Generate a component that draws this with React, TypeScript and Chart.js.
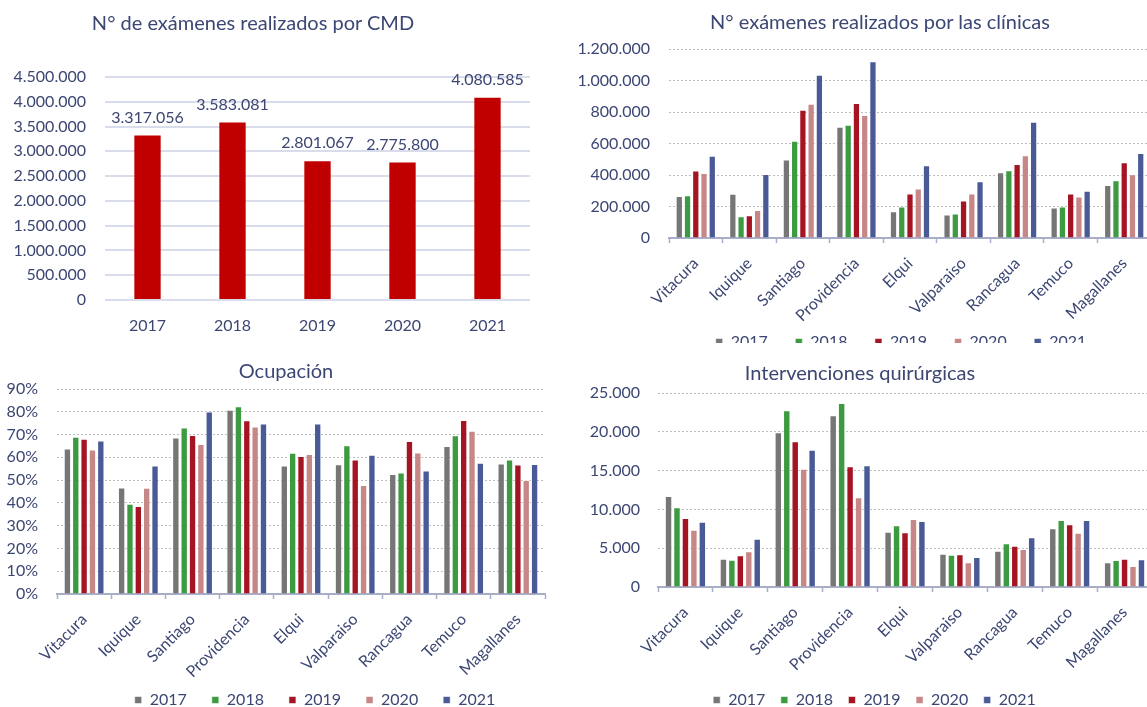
import React, { useEffect, useRef } from 'react';
import { Chart, registerables } from 'chart.js';

Chart.register(...registerables);

// ---------- DATA ----------
const years = ['2017', '2018', '2019', '2020', '2021'];
const cmdValues = [3317056, 3583081, 2801067, 2775800, 4080585];

const clinics = ['Vitacura', 'Iquique', 'Santiago', 'Providencia', 'Elqui', 'Valparaiso', 'Rancagua', 'Temuco', 'Magallanes'];

const exams2017 = [266000, 281000, 498000, 706000, 170000, 149000, 417000, 194000, 336000];
const exams2018 = [272000, 138000, 617000, 719000, 200000, 155000, 430000, 200000, 366000];
const exams2019 = [428000, 145000, 815000, 857000, 283000, 238000, 470000, 283000, 481000];
const exams2020 = [413000, 177000, 853000, 781000, 315000, 283000, 526000, 264000, 404000];
const exams2021 = [523000, 406000, 1036000, 1123000, 462000, 360000, 738000, 300000, 540000];

const occ2017 = [63.9, 46.8, 68.7, 80.9, 56.4, 57.0, 52.7, 65.0, 57.3];
const occ2018 = [69.0, 39.6, 73.1, 82.4, 62.0, 65.3, 53.3, 69.7, 59.0];
const occ2019 = [68.2, 38.6, 69.8, 76.3, 60.6, 59.0, 67.2, 76.4, 56.8];
const occ2020 = [63.4, 46.6, 65.8, 73.5, 61.5, 47.8, 62.1, 71.7, 50.0];
const occ2021 = [67.4, 56.4, 80.1, 74.8, 74.8, 61.1, 54.2, 57.6, 57.1];

const surg2017 = [11730, 3650, 19930, 22120, 7130, 4300, 4680, 7560, 3180];
const surg2018 = [10270, 3520, 22770, 23710, 7950, 4170, 5630, 8630, 3480];
const surg2019 = [8890, 4080, 18770, 15550, 7050, 4210, 5330, 8080, 3650];
const surg2020 = [7390, 4600, 15250, 11560, 8760, 3180, 4900, 7000, 2710];
const surg2021 = [8420, 6230, 17700, 15680, 8510, 3870, 6400, 8630, 3570];

// ---------- STYLE ----------
const TEXT = '#3C4673';
const FONT = 'Lato';
const seriesColors = ['#767676', '#3C9B41', '#A51423', '#C88787', '#4A5A96'];

const fmtThousands = (n: number) =>
  Math.round(n).toString().replace(/\B(?=(\d{3})+(?!\d))/g, '.');

const dataLabelPlugin = {
  id: 'dataLabels',
  afterDatasetsDraw(chart: any) {
    const ctx = chart.ctx;
    const meta = chart.getDatasetMeta(0);
    const ds = chart.data.datasets[0];
    ctx.save();
    ctx.fillStyle = TEXT;
    ctx.font = `16px ${FONT}`;
    ctx.textAlign = 'center';
    ctx.textBaseline = 'middle';
    meta.data.forEach((bar: any, i: number) => {
      ctx.fillText(fmtThousands(ds.data[i]), bar.x, bar.y - 18);
    });
    ctx.restore();
  },
};

function cmdConfig(): any {
  return {
    type: 'bar',
    data: {
      labels: years,
      datasets: [
        {
          data: cmdValues,
          backgroundColor: '#C00000',
          categoryPercentage: 1,
          barPercentage: 0.31,
        },
      ],
    },
    options: {
      responsive: false,
      animation: false,
      layout: { padding: { top: 77, left: 0, right: 30, bottom: 0 } },
      plugins: { legend: { display: false }, tooltip: { enabled: false } },
      scales: {
        x: {
          grid: { display: false, drawTicks: false },
          border: { display: false },
          ticks: { color: TEXT, font: { family: FONT, size: 16 }, padding: 16, maxRotation: 0, minRotation: 0 },
          afterFit: (s: any) => { s.height = 45; },
        },
        y: {
          min: 0,
          max: 4500000,
          ticks: {
            stepSize: 500000,
            color: TEXT,
            font: { family: FONT, size: 16 },
            padding: 19,
            callback: (v: any) => fmtThousands(Number(v)),
          },
          grid: { color: '#D9DCEA', lineWidth: 2, drawTicks: false },
          border: { display: false },
          afterFit: (s: any) => { s.width = 105; },
        },
      },
    },
    plugins: [dataLabelPlugin],
  };
}

function groupedConfig(p: {
  series: number[][];
  max: number;
  step: number;
  tick: (v: number) => string;
  padTop: number;
  yw: number;
  yPad: number;
  rw: number;
  hx: number;
  legendPad: number;
}): any {
  return {
    type: 'bar',
    data: {
      labels: clinics,
      datasets: p.series.map((d, i) => ({
        label: years[i],
        data: d,
        backgroundColor: seriesColors[i],
        borderColor: 'rgba(255,255,255,0.55)',
        borderWidth: 1,
        categoryPercentage: 0.77,
        barPercentage: 0.88,
      })),
    },
    options: {
      responsive: false,
      animation: false,
      layout: { padding: { top: p.padTop, left: 0, right: 0, bottom: 0 } },
      plugins: {
        tooltip: { enabled: false },
        legend: {
          position: 'bottom',
          labels: {
            boxWidth: 7,
            boxHeight: 7,
            padding: p.legendPad,
            color: TEXT,
            font: { family: FONT, size: 16 },
          },
        },
      },
      scales: {
        x: {
          offset: true,
          grid: {
            display: true,
            drawOnChartArea: false,
            drawTicks: true,
            tickLength: 5,
            tickColor: '#A8ADC8',
            tickWidth: 1.5,
            offset: true,
          },
          border: { display: true, color: '#A8ADC8', width: 2 },
          ticks: {
            autoSkip: false,
            maxRotation: 45,
            minRotation: 45,
            padding: 11,
            color: TEXT,
            font: { family: FONT, size: 16 },
          },
          afterFit: (s: any) => {
            s.height = p.hx;
            // let rotated labels extend past the fixed-height axis box
            s._computeLabelArea = () => undefined;
          },
        },
        y: {
          min: 0,
          max: p.max,
          ticks: {
            stepSize: p.step,
            color: TEXT,
            font: { family: FONT, size: 16 },
            padding: p.yPad,
            callback: (v: any) => p.tick(Number(v)),
          },
          grid: { color: '#BDBDBD', lineWidth: 1, drawTicks: false },
          border: { display: false, dash: [2, 2] },
          afterFit: (s: any) => { s.width = p.yw; },
        },
        yR: {
          type: 'linear',
          position: 'right',
          display: true,
          grid: { display: false, drawTicks: false },
          border: { display: false },
          ticks: { display: false },
          afterFit: (s: any) => { s.width = p.rw; },
        },
      },
    },
  };
}

function ChartBox(props: {
  left: number;
  top: number;
  clipW: number;
  clipH: number;
  width: number;
  height: number;
  makeConfig: () => any;
}) {
  const ref = useRef<HTMLCanvasElement>(null);
  useEffect(() => {
    const chart = new Chart(ref.current as HTMLCanvasElement, props.makeConfig());
    return () => chart.destroy();
  }, []);
  return (
    <div
      style={{
        position: 'absolute',
        left: props.left,
        top: props.top,
        width: props.clipW,
        height: props.clipH,
        overflow: 'hidden',
      }}
    >
      <canvas
        ref={ref}
        width={props.width}
        height={props.height}
        style={{ width: props.width, height: props.height, display: 'block' }}
      />
    </div>
  );
}

function Title(props: { text: string; cx: number; cy: number }) {
  return (
    <div
      style={{
        position: 'absolute',
        left: props.cx - 300,
        top: props.cy - 13,
        width: 600,
        textAlign: 'center',
        font: `20px ${FONT}`,
        lineHeight: '24px',
        color: TEXT,
        whiteSpace: 'nowrap',
      }}
    >
      {props.text}
    </div>
  );
}

export default function App() {
  return (
    <div
      style={{
        position: 'fixed',
        left: 0,
        top: 0,
        width: 1147,
        height: 707,
        overflow: 'hidden',
        background: '#ffffff',
      }}
    >
      <ChartBox left={0} top={0} clipW={560} clipH={345} width={560} height={345} makeConfig={cmdConfig} />
      <ChartBox
        left={560}
        top={0}
        clipW={587}
        clipH={343}
        width={682}
        height={360}
        makeConfig={() =>
          groupedConfig({
            series: [exams2017, exams2018, exams2019, exams2020, exams2021],
            max: 1200000,
            step: 200000,
            tick: fmtThousands,
            padTop: 49,
            yw: 109,
            yPad: 19,
            rw: 91,
            hx: 68.5,
            legendPad: 27.5,
          })
        }
      />
      <ChartBox
        left={0}
        top={345}
        clipW={640}
        clipH={373}
        width={630}
        height={373}
        makeConfig={() =>
          groupedConfig({
            series: [occ2017, occ2018, occ2019, occ2020, occ2021],
            max: 90,
            step: 10,
            tick: (v) => `${Math.round(v)}%`,
            padTop: 44,
            yw: 57,
            yPad: 19,
            rw: 85,
            hx: 73,
            legendPad: 25,
          })
        }
      />
      <ChartBox
        left={570}
        top={345}
        clipW={620}
        clipH={373}
        width={609}
        height={373}
        makeConfig={() =>
          groupedConfig({
            series: [surg2017, surg2018, surg2019, surg2020, surg2021],
            max: 25000,
            step: 5000,
            tick: fmtThousands,
            padTop: 48,
            yw: 88,
            yPad: 18,
            rw: 27,
            hx: 89.5,
            legendPad: 15.5,
          })
        }
      />
      <Title text="N° de exámenes realizados por CMD" cx={253} cy={23} />
      <Title text="N° exámenes realizados por las clínicas" cx={880} cy={22} />
      <Title text="Ocupación" cx={286} cy={371} />
      <Title text="Intervenciones quirúrgicas" cx={860} cy={373} />
    </div>
  );
}
